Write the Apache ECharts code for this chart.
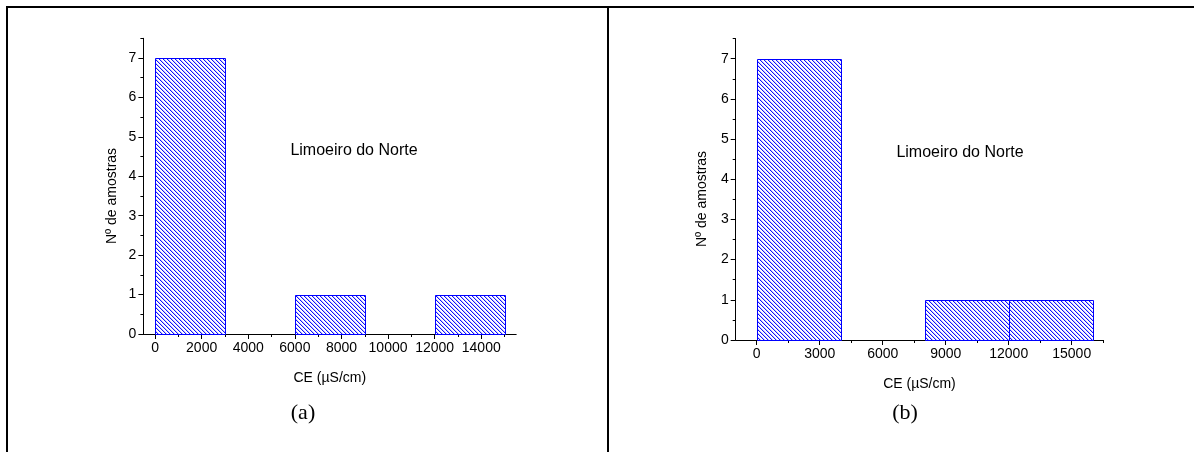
<!DOCTYPE html>
<html>
<head>
<meta charset="utf-8">
<script src="https://cdn.jsdelivr.net/npm/echarts@6/dist/echarts.min.js"></script>
<style>
html,body{margin:0;padding:0;background:#fff;}
#chart{width:1194px;height:452px;}
</style>
</head>
<body>
<div id="chart"></div>
<script>
// ---- data ----
// panel (a): bins [start, end] and counts
const binStartA = [0, 3000, 6000, 9000, 12000];
const binEndA   = [3000, 6000, 9000, 12000, 15000];
const countsA   = [7, 0, 1, 0, 1];
// panel (b)
const binStartB = [0, 4000, 8000, 12000];
const binEndB   = [4000, 8000, 12000, 16000];
const countsB   = [7, 0, 1, 1];
// tick labels
const xMajorA = [0, 2000, 4000, 6000, 8000, 10000, 12000, 14000];
const xMinorA = [1000, 3000, 5000, 7000, 9000, 11000, 13000, 15000];
const xMajorB = [0, 3000, 6000, 9000, 12000, 15000];
const xMinorB = [1500, 4500, 7500, 10500, 13500, 16500];
const yMajor  = [0, 1, 2, 3, 4, 5, 6, 7];
const yMinor  = [0.5, 1.5, 2.5, 3.5, 4.5, 5.5, 6.5, 7.5];
const xTitle = 'CE (\u00b5S/cm)';
const yTitle = 'N\u00ba de amostras';
const annotation = 'Limoeiro do Norte';
const panelLabels = ['(a)', '(b)'];

// ---- hatch pattern ----
function makeHatch() {
  const n = 4;
  const c = document.createElement('canvas');
  c.width = n; c.height = n;
  const g = c.getContext('2d');
  g.fillStyle = '#ffffff';
  g.fillRect(0, 0, n, n);
  for (let i = 0; i < n; i++) {
    g.fillStyle = '#1010ff';
    g.fillRect(i, i, 1, 1);
    g.fillStyle = '#c4c4ff';
    g.fillRect((i + 1) % n, i, 1, 1);
  }
  return c;
}
const hatch = makeHatch();

const FONT = 'Liberation Sans, Arial, sans-serif';
const blue = '#0000ff';
const plain = v => String(v);

function histSeries(xi, starts, ends, counts) {
  return {
    type: 'custom',
    xAxisIndex: xi,
    yAxisIndex: xi,
    data: starts.map((s, i) => [s, ends[i], counts[i]]),
    encode: { x: [0, 1], y: 2 },
    renderItem: function (params, api) {
      const v = api.value(2);
      if (!v) return null;
      const p0 = api.coord([api.value(0), v]);
      const p1 = api.coord([api.value(1), 0]);
      return {
        type: 'rect',
        shape: { x: Math.round(p0[0]) + 0.5, y: Math.round(p0[1]) + 0.5,
                 width: Math.round(p1[0]) - Math.round(p0[0]),
                 height: Math.round(p1[1]) - Math.round(p0[1]) },
        style: { fill: { image: hatch, repeat: 'repeat' }, stroke: blue, lineWidth: 1 }
      };
    }
  };
}

function xAxes(gi, min, max, major, minor) {
  return [{
    type: 'value', gridIndex: gi, min: min, max: max, position: 'bottom',
    splitLine: { show: false },
    axisLine: { show: true, onZero: false, lineStyle: { color: '#000', width: 1 } },
    axisTick: { show: true, inside: false, length: 5, customValues: major, lineStyle: { color: '#000' } },
    axisLabel: { show: true, customValues: major, formatter: plain, color: '#000', fontFamily: FONT, fontSize: 14, margin: 7 },
    name: xTitle, nameLocation: 'middle', nameGap: 37,
    nameTextStyle: { color: '#000', fontFamily: FONT, fontSize: 14 }
  }, {
    type: 'value', gridIndex: gi, min: min, max: max, position: 'bottom',
    splitLine: { show: false },
    axisLine: { show: false, onZero: false },
    axisTick: { show: true, length: 3, customValues: minor, lineStyle: { color: '#000' } },
    axisLabel: { show: false }
  }];
}
function yAxes(gi) {
  return [{
    type: 'value', gridIndex: gi, min: 0, max: 7.5, position: 'left',
    splitLine: { show: false },
    axisLine: { show: true, onZero: false, lineStyle: { color: '#000', width: 1 } },
    axisTick: { show: true, length: 5, customValues: yMajor, lineStyle: { color: '#000' } },
    axisLabel: { show: true, customValues: yMajor, formatter: plain, color: '#000', fontFamily: FONT, fontSize: 14, margin: 7 }
  }, {
    type: 'value', gridIndex: gi, min: 0, max: 7.5, position: 'left',
    splitLine: { show: false },
    axisLine: { show: false, onZero: false },
    axisTick: { show: true, length: 3, customValues: yMinor, lineStyle: { color: '#000' } },
    axisLabel: { show: false }
  }];
}

const xa = xAxes(0, -500, 15500, xMajorA, xMinorA);
const xb = xAxes(1, -1000, 16500, xMajorB, xMinorB);
const ya = yAxes(0);
const yb = yAxes(1);

const option = {
  animation: false,
  backgroundColor: '#fff',
  grid: [
    { left: 143.4, top: 38.3, width: 372.8, height: 295.7, outerBoundsMode: 'none', containLabel: false },
    { left: 735.7, top: 38.6, width: 367.5, height: 301.4, outerBoundsMode: 'none', containLabel: false }
  ],
  xAxis: [xa[0], xb[0], xa[1], xb[1]],
  yAxis: [ya[0], yb[0], ya[1], yb[1]],
  series: [
    histSeries(0, binStartA, binEndA, countsA),
    histSeries(1, binStartB, binEndB, countsB)
  ],
  graphic: [
    { type: 'line', shape: { x1: 6, y1: 7, x2: 1194, y2: 7 }, style: { stroke: '#000', lineWidth: 2 } },
    { type: 'line', shape: { x1: 7, y1: 6, x2: 7, y2: 452 }, style: { stroke: '#000', lineWidth: 2 } },
    { type: 'line', shape: { x1: 608, y1: 6, x2: 608, y2: 452 }, style: { stroke: '#000', lineWidth: 2 } },
    { type: 'text', x: 112, y: 196, rotation: Math.PI / 2,
      style: { text: yTitle, fill: '#000', font: '14px ' + FONT, textAlign: 'center', textVerticalAlign: 'middle' } },
    { type: 'text', x: 702, y: 199, rotation: Math.PI / 2,
      style: { text: yTitle, fill: '#000', font: '14px ' + FONT, textAlign: 'center', textVerticalAlign: 'middle' } },
    { type: 'text', x: 354, y: 151,
      style: { text: annotation, fill: '#000', font: '16px ' + FONT, textAlign: 'center', textVerticalAlign: 'middle' } },
    { type: 'text', x: 960, y: 153,
      style: { text: annotation, fill: '#000', font: '16px ' + FONT, textAlign: 'center', textVerticalAlign: 'middle' } },
    { type: 'text', x: 303, y: 413,
      style: { text: panelLabels[0], fill: '#000', font: '22px Liberation Serif, Times New Roman, serif', textAlign: 'center', textVerticalAlign: 'middle' } },
    { type: 'text', x: 905, y: 413,
      style: { text: panelLabels[1], fill: '#000', font: '22px Liberation Serif, Times New Roman, serif', textAlign: 'center', textVerticalAlign: 'middle' } }
  ]
};
const chart = echarts.init(document.getElementById('chart'), null, { renderer: 'canvas' });
chart.setOption(option);
</script>
</body>
</html>
